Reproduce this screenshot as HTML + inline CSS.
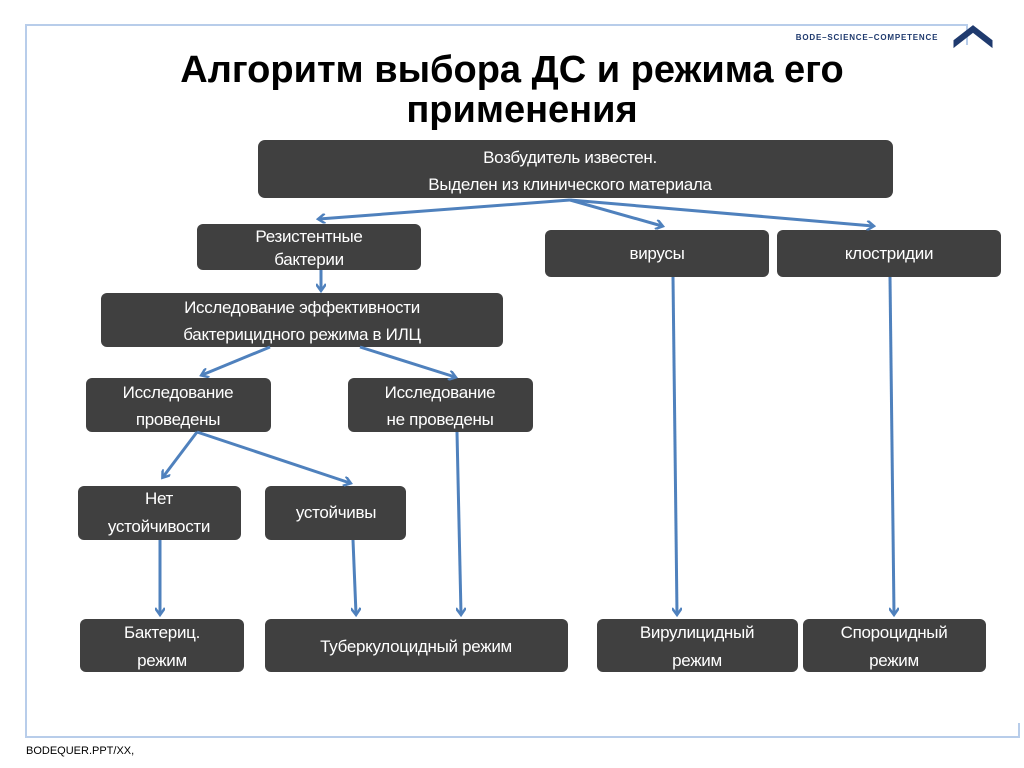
<!DOCTYPE html>
<html><head><meta charset="utf-8"><style>
html,body{margin:0;padding:0;background:#fff;}
svg{display:block;}
.b{fill:#404040;}
.t{fill:#fff;font-family:"Liberation Sans",sans-serif;font-size:17px;text-anchor:middle;letter-spacing:-0.3px;}
.a{stroke:#4f81bd;stroke-width:3;fill:none;}
</style></head><body>
<svg width="1024" height="768" viewBox="0 0 1024 768">
<defs><marker id="m" markerWidth="10" markerHeight="10" refX="7" refY="5" orient="auto" markerUnits="userSpaceOnUse"><path d="M1,0 L8,5 L1,10" stroke="#4f81bd" stroke-width="2.5" fill="none"/></marker></defs>
<path d="M26,738 L26,25 L967,25 L967,45" stroke="#b8cdea" stroke-width="2" fill="none"/>
<path d="M26,737 L1019,737 L1019,723" stroke="#b8cdea" stroke-width="2" fill="none"/>
<text x="867" y="40" font-family="Liberation Sans,sans-serif" font-size="8" font-weight="bold" fill="#1f3a6e" text-anchor="middle" letter-spacing="0.8">BODE–SCIENCE–COMPETENCE</text>
<path d="M955,45 L973,31 L991,45 L991,41 L973,27 L955,41 Z" fill="#1f3a6e" stroke="#1f3a6e" stroke-width="3"/>
<text x="512" y="82" font-family="Liberation Sans,sans-serif" font-size="38" font-weight="bold" text-anchor="middle" fill="#000">Алгоритм выбора ДС и режима его</text>
<text x="522" y="122" font-family="Liberation Sans,sans-serif" font-size="38" font-weight="bold" text-anchor="middle" fill="#000">применения</text>
<rect class="b" x="258" y="140" width="635" height="58" rx="7"/>
<text class="t" x="570" y="163">Возбудитель известен.</text>
<text class="t" x="570" y="190">Выделен из клинического материала</text>
<rect class="b" x="197" y="224" width="224" height="46" rx="6"/>
<text class="t" x="309" y="242">Резистентные</text>
<text class="t" x="309" y="265">бактерии</text>
<rect class="b" x="545" y="230" width="224" height="47" rx="6"/>
<text class="t" x="657" y="259">вирусы</text>
<rect class="b" x="777" y="230" width="224" height="47" rx="6"/>
<text class="t" x="889" y="259">клостридии</text>
<rect class="b" x="101" y="293" width="402" height="54" rx="6"/>
<text class="t" x="302" y="313">Исследование эффективности</text>
<text class="t" x="302" y="340">бактерицидного режима в ИЛЦ</text>
<rect class="b" x="86" y="378" width="185" height="54" rx="6"/>
<text class="t" x="178" y="398">Исследование</text>
<text class="t" x="178" y="425">проведены</text>
<rect class="b" x="348" y="378" width="185" height="54" rx="6"/>
<text class="t" x="440" y="398">Исследование</text>
<text class="t" x="440" y="425">не проведены</text>
<rect class="b" x="78" y="486" width="163" height="54" rx="6"/>
<text class="t" x="159" y="504">Нет</text>
<text class="t" x="159" y="532">устойчивости</text>
<rect class="b" x="265" y="486" width="141" height="54" rx="6"/>
<text class="t" x="336" y="518">устойчивы</text>
<rect class="b" x="80" y="619" width="164" height="53" rx="6"/>
<text class="t" x="162" y="638">Бактериц.</text>
<text class="t" x="162" y="666">режим</text>
<rect class="b" x="265" y="619" width="303" height="53" rx="6"/>
<text class="t" x="416" y="652">Туберкулоцидный режим</text>
<rect class="b" x="597" y="619" width="201" height="53" rx="6"/>
<text class="t" x="697" y="638">Вирулицидный</text>
<text class="t" x="697" y="666">режим</text>
<rect class="b" x="803" y="619" width="183" height="53" rx="6"/>
<text class="t" x="894" y="638">Спороцидный</text>
<text class="t" x="894" y="666">режим</text>
<g class="a">
<path d="M570,200 L319,219" marker-end="url(#m)"/>
<path d="M570,200 L662,226" marker-end="url(#m)"/>
<path d="M570,200 L873,226" marker-end="url(#m)"/>
<path d="M321,270 L321,290" marker-end="url(#m)"/>
<path d="M270,347 L202,375" marker-end="url(#m)"/>
<path d="M360,347 L455,377" marker-end="url(#m)"/>
<path d="M197,432 L163,477" marker-end="url(#m)"/>
<path d="M197,432 L350,483" marker-end="url(#m)"/>
<path d="M160,540 L160,614" marker-end="url(#m)"/>
<path d="M353,540 L356,614" marker-end="url(#m)"/>
<path d="M457,432 L461,614" marker-end="url(#m)"/>
<path d="M673,277 L677,614" marker-end="url(#m)"/>
<path d="M890,277 L894,614" marker-end="url(#m)"/>
</g>
<text x="26" y="754" font-family="Liberation Sans,sans-serif" font-size="11" fill="#000">BODEQUER.PPT/XX,</text>
</svg>
</body></html>
